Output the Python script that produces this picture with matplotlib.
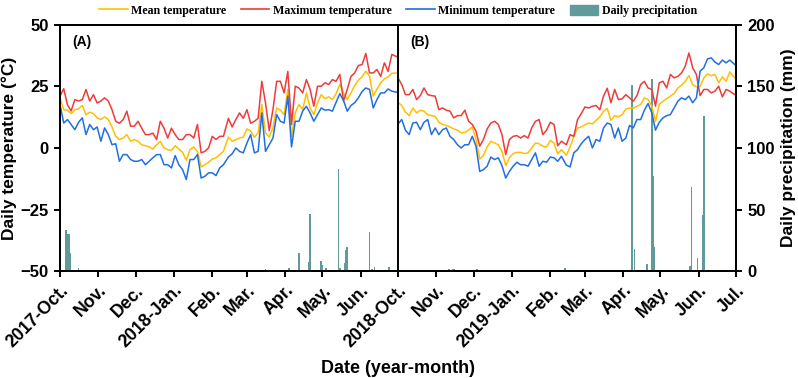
import matplotlib.pyplot as plt
import numpy as np
import pandas as pd
from matplotlib.lines import Line2D
from matplotlib.patches import Patch

plt.rcParams['font.family'] = 'Liberation Sans'
plt.rcParams['font.weight'] = 'bold'

# daily temperature, read every ~3 days, 1 Oct -> 30 Jun of each season (°C)
tmax_a = [21, 24, 17.5, 15, 19.6, 19, 19.6, 23.7, 19, 21.6,
          18.2, 19, 20.3, 19, 15.5, 10.8, 10, 11.5, 14.9, 8.8,
          8.8, 10.8, 8, 5.4, 5.4, 6, 3.4, 10.8, 8, 4,
          8, 5.4, 3.4, 3.4, 5.4, 5.4, 4, 9.5, -2, -1.4,
          0, 4.7, 3.4, 4.7, 4.7, 12, 8.5, 11.5, 14.2, 12,
          15.5, 10, 10.8, 12, 27, 18.2, 7, 15.5, 27, 27,
          22.3, 31, 9.5, 25, 24.3, 22.3, 27.7, 23.7, 16.9, 25,
          25, 26.4, 25.7, 27.7, 27, 29.8, 19, 23.7, 29, 30.4,
          33.4, 33.8, 38.3, 30.4, 30.4, 31.8, 29, 34.5, 31, 37.9,
          37]
tmin_a = [17.6, 10.1, 11.5, 9.5, 7.4, 10.4, 12.2, 5.4, 9.5, 7.4,
          8.5, 2.7, 8.1, 5.4, 1.3, 1.7, -5.4, -2.7, -2.7, -4.7,
          -5.4, -5.4, -4.7, -6.8, -5.4, -4, -2.7, -2.7, -6.8, -6.8,
          -8.1, -3.1, -6.8, -8.8, -12.8, -4.7, -4.7, -2.7, -12.2, -11.5,
          -10.1, -10.1, -11.2, -8.1, -6.8, -3.7, -2.4, 0, -1.4, -2,
          2, 5.4, -2, -1.4, 14.2, -1.4, 1.3, 4, 13.5, 10.8,
          10.1, 21, 0.4, 10.8, 10.8, 14.9, 16.9, 14.2, 10.8, 13.5,
          16.2, 15.3, 15.5, 14.9, 18.5, 22, 19.2, 14.9, 17.2, 18.3,
          20.3, 22.9, 24.3, 23.7, 16.2, 19.6, 22.3, 22.3, 23.9, 23,
          22.6]
tmean_a = [20.3, 15.5, 15.3, 13.9, 15.5, 15.8, 17.2, 13.5, 14.5, 13.9,
           12.2, 11.5, 12.6, 11.5, 8.5, 4.7, 3.4, 4, 5.4, 2.7,
           3.4, 2.7, 1.3, 0.9, 0.4, -0.4, 1.3, 2.7, 0, -0.7,
           -1, 0.9, -0.4, -1.8, -5, -0.7, 0.4, -1.4, -7.7, -6.8,
           -5.8, -4.5, -4, -2.7, -1.4, 4.4, 2.7, 3.4, 4, 4.4,
           7.7, 6.8, 4.3, 6.1, 17.6, 6.1, 4.4, 8.1, 16.2, 15.3,
           13.5, 23.7, 4.7, 14.2, 17.6, 15.5, 22.3, 16.2, 13.5, 18.3,
           21.6, 19.9, 20.7, 19.6, 22, 25.7, 22.3, 19.6, 22.3, 25.3,
           27.5, 28.8, 31.1, 29, 21, 23.9, 26.4, 28, 28.8, 30.2,
           30.4]

tmax_b = [28.4, 25.7, 21.6, 21.6, 23.7, 19.6, 21.2, 24.3, 21.6, 21.2,
          21, 15.5, 16.2, 15.3, 14.9, 12.2, 13.1, 13.1, 15.3, 10.8,
          9.5, 6.8, 0.7, 3.4, 7.7, 10.1, 10.8, 9.5, 5.4, -2.7,
          3.4, 4.7, 5, 4, 5, 4, 8.1, 10.8, 11.5, 5.4,
          7.2, 10.4, 9.5, 0.9, 2.7, 1.3, 5.4, 4.7, 11.5, 13.9,
          16.6, 16.2, 16.9, 17.2, 15.5, 21, 24.2, 18.3, 23.7, 19.6,
          19.9, 21.6, 20.3, 18.9, 21.2, 25.7, 27, 24.3, 23.7, 16.9,
          26.4, 27, 24.3, 29.8, 28.4, 29, 30.4, 33.1, 38.5, 32.5,
          29.8, 21.2, 23.7, 23.7, 22.3, 23, 25, 20.7, 23.7, 23,
          21.6]
tmin_b = [9.7, 11.5, 7.2, 5.4, 10.1, 10.4, 7.4, 10.4, 11.5, 5.4,
          8.1, 5.4, 7.4, 8.1, 4.7, 3.4, 1.3, 0, 1.3, 1.3,
          4.7, 0.7, -9.5, -8.8, -7.4, -3.7, -4.7, -4, -7.2, -12.2,
          -9.5, -7.4, -5.8, -6.8, -6.8, -7.4, -4.7, -2, -7.4, -5.4,
          -5.8, -3.7, -4, -5.4, -3.4, -7, -7.7, -2, -0.7, 1.7,
          3.4, 4.7, 0, 3.4, 2.7, 8.1, 10.1, 9.5, 4, 8.1,
          2.7, 4, 9.1, 8.1, 11.5, 11.5, 15.3, 18, 14.2, 7.2,
          10.4, 12.2, 13.1, 13.5, 16.2, 18.9, 20.3, 19.6, 21, 18.3,
          20.3, 31.1, 32.5, 36.1, 36.5, 34.8, 33.8, 35.6, 34.5, 35.6,
          33.8]
tmean_b = [18.5, 17.2, 14.5, 13.1, 16.2, 14.2, 15.3, 14.9, 13.5, 13.1,
           12.8, 10.4, 9.5, 9.1, 8.5, 7.7, 7.2, 6.1, 6.3, 7.2,
           8.5, 3.4, -4.5, -3.1, 0.4, 2.7, 2, 1.3, -1.4, -7.2,
           -4, -2.3, -1.8, -1.8, -2.3, -2, 0, 2, 1.7, 0.7,
           0.4, 3, 2, -2.4, -0.7, -3, 0.4, 4.7, 8.1, 8.5,
           9.3, 10.1, 9.7, 11.2, 12.6, 14.9, 16, 11.2, 13.1, 12.6,
           13.5, 15.8, 16.2, 16.1, 16.9, 17.6, 20.3, 19.6, 16.9, 10.8,
           17.6, 18.9, 20, 21, 22, 24.3, 25.4, 27, 29.3, 25.7,
           24.7, 25, 28.4, 30, 29.3, 29.8, 26.4, 28.8, 27, 30.8,
           28.4]

# daily precipitation (mm), rainy days only
rain_a_dates = ['2017-10-06', '2017-10-07', '2017-10-08', '2017-10-09', '2017-10-16',
                '2017-11-14', '2018-01-23', '2018-03-16', '2018-04-04', '2018-04-12',
                '2018-04-20', '2018-04-21', '2018-04-30', '2018-05-01', '2018-05-04',
                '2018-05-14', '2018-05-15', '2018-05-19', '2018-05-20', '2018-05-21',
                '2018-06-08', '2018-06-10', '2018-06-12', '2018-06-24']
rain_a = [33.5, 30.3, 30, 14.6, 2.4,
          0.5, 0.5, 1.5, 3, 14.6,
          7.8, 46.5, 8.4, 5, 2.4,
          83, 2.4, 6.4, 17.3, 19.5,
          31.6, 1.5, 3.6, 3.6]
rain_b_dates = ['2018-10-24', '2018-11-04', '2018-11-10', '2018-11-11', '2018-11-14',
                '2018-11-15', '2018-12-04', '2018-12-20', '2019-02-13', '2019-04-08',
                '2019-04-10', '2019-04-20', '2019-04-24', '2019-04-25', '2019-04-26',
                '2019-05-25', '2019-05-26', '2019-05-31', '2019-06-04', '2019-06-05']
rain_b = [1, 1, 1, 1.5, 1.5,
          1.5, 2, 0.5, 2.4, 151,
          17.8, 6, 156, 77, 20,
          4, 68.7, 10.5, 45.7, 126]

tick_labels = ['2017-Oct.', 'Nov.', 'Dec.', '2018-Jan.', 'Feb.', 'Mar.', 'Apr.', 'May.', 'Jun.',
               '2018-Oct.', 'Nov.', 'Dec.', '2019-Jan.', 'Feb.', 'Mar.', 'Apr.', 'May.', 'Jun.', 'Jul.']

c_mean, c_max, c_min, c_rain = '#ffc000', '#ef3b3b', '#1f6fe3', '#5f9b9b'

# both seasons share one axis, season B shifted by the length of season A (273 days)
starts = [pd.Timestamp('2017-10-01'), pd.Timestamp('2018-10-01')]
span = (pd.Timestamp('2018-07-01') - starts[0]).days


def to_x(dates, k):
    return np.asarray((pd.to_datetime(dates) - starts[k]).days, dtype=float) + k * span


fig, ax = plt.subplots(figsize=(7.98, 3.78), dpi=100)
fig.subplots_adjust(left=0.0752, right=0.9223, bottom=0.2823, top=0.935)

ax2 = ax.twinx()
ax.set_zorder(ax2.get_zorder() + 1)
ax.patch.set_visible(False)

for k, (tmx, tmn, tme) in enumerate([(tmax_a, tmin_a, tmean_a), (tmax_b, tmin_b, tmean_b)]):
    days = pd.date_range(starts[k], starts[k] + pd.Timedelta(days=span - 1), periods=len(tmx))
    x = to_x(days, k)
    ax.plot(x, tme, color=c_mean, lw=1.1)
    ax.plot(x, tmx, color=c_max, lw=1.1)
    ax.plot(x, tmn, color=c_min, lw=1.1)

ax2.bar(to_x(rain_a_dates, 0), rain_a, width=1.4, color=c_rain, edgecolor='none')
ax2.bar(to_x(rain_b_dates, 1), rain_b, width=1.4, color=c_rain, edgecolor='none')

ax.axvline(span, color='black', lw=1.4, zorder=5)

ax.set_xlim(0, 2 * span)
ax.set_ylim(-50, 50)
ax2.set_ylim(0, 200)
ax.set_yticks([-50, -25, 0, 25, 50])
ax2.set_yticks([0, 50, 100, 150, 200])

ticks = np.concatenate([to_x(pd.date_range(starts[0], periods=9, freq='MS'), 0),
                        to_x(pd.date_range(starts[1], periods=10, freq='MS'), 1)])
ax.set_xticks(ticks)
ax.set_xticklabels(tick_labels, rotation=45, ha='right', rotation_mode='anchor')

for a in (ax, ax2):
    for s in a.spines.values():
        s.set_linewidth(1.4)
    a.tick_params(width=1.4, length=4.5, labelsize=12)
ax.tick_params(axis='x', labelsize=12.8, pad=3)

ax.set_ylabel('Daily temperature (°C)', fontsize=12.5, fontweight='bold')
ax2.set_ylabel('Daily precipitation (mm)', fontsize=12.5, fontweight='bold')
ax.set_xlabel('Date (year-month)', fontsize=13, fontweight='bold')
ax.yaxis.set_label_coords(-0.064, 0.5)
ax2.yaxis.set_label_coords(1.066, 0.5)
ax.xaxis.set_label_coords(0.5, -0.36)

ax.text(0.018, 0.93, '(A)', transform=ax.transAxes, fontsize=10, fontweight='bold', va='center')
ax.text(0.518, 0.93, '(B)', transform=ax.transAxes, fontsize=10, fontweight='bold', va='center')

handles = [Line2D([], [], color=c_mean, lw=1.2), Line2D([], [], color=c_max, lw=1.2),
           Line2D([], [], color=c_min, lw=1.2), Patch(color=c_rain)]
names = ['Mean temperature', 'Maximum temperature', 'Minimum temperature', 'Daily precipitation']
ax.legend(handles, names, loc='lower center', bbox_to_anchor=(0.5, 1.03), ncol=4, frameon=False,
          borderaxespad=0, borderpad=0, handlelength=2.4, handleheight=1.0, handletextpad=0.3,
          columnspacing=1.2, prop={'family': 'Liberation Serif', 'weight': 'bold', 'size': 8.6})

plt.savefig('out.png', dpi=100)
